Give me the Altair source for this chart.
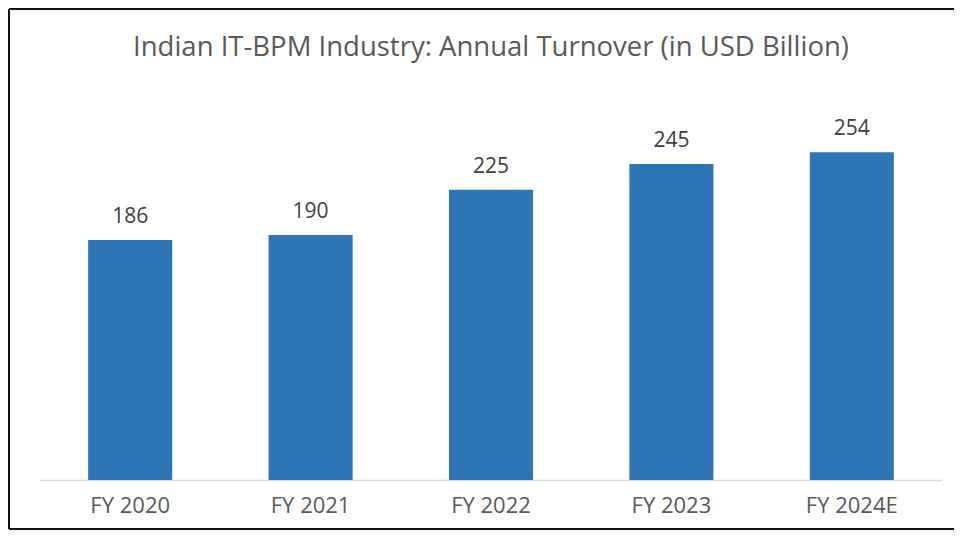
import altair as alt
import pandas as pd

years = ["FY 2020", "FY 2021", "FY 2022", "FY 2023", "FY 2024E"]
turnover = [186, 190, 225, 245, 254]
title_text = "Indian IT-BPM Industry: Annual Turnover (in USD Billion)"

df = pd.DataFrame({"year": years, "value": turnover})

W, H = 902, 387
FONT = "Open Sans"

x = alt.X("year:N", sort=years, title=None,
          scale=alt.Scale(paddingInner=0.534, paddingOuter=0.267),
          axis=alt.Axis(labelAngle=0, labelFontSize=22, labelColor="#595959",
                        labelFont=FONT, labelPadding=15, ticks=False,
                        domainColor="#D9D9D9", domainWidth=1.5, grid=False))
y = alt.Y("value:Q", scale=alt.Scale(domain=[0, 300]), axis=None)

base = alt.Chart(df)
bars = base.mark_bar(color="#2E75B6").encode(x=x, y=y)
labels = base.mark_text(fontSize=21, color="#404040", font=FONT,
                        baseline="middle", dy=-23).encode(
    x=x, y=y, text=alt.Text("value:Q"))

title = alt.Chart(pd.DataFrame({"t": [title_text]})).mark_text(
    fontSize=27.5, color="#595959", font=FONT, baseline="middle", align="center"
).encode(x=alt.value(W / 2), y=alt.value(-45), text="t:N")

frame_df = pd.DataFrame({"k": [0]})
left = alt.Chart(frame_df).mark_rule(color="#111111", strokeWidth=2).encode(
    x=alt.value(-31), y=alt.value(-84), y2=alt.value(436))
top = alt.Chart(frame_df).mark_rule(color="#111111", strokeWidth=2).encode(
    y=alt.value(-84), x=alt.value(-31), x2=alt.value(W + 12))
bottom = alt.Chart(frame_df).mark_rule(color="#111111", strokeWidth=2).encode(
    y=alt.value(436), x=alt.value(-31), x2=alt.value(W + 12))

chart = alt.layer(bars, labels, title, left, top, bottom).properties(
    width=W, height=H,
    autosize=alt.AutoSizeParams(type="none"),
    padding={"left": 32, "top": 85, "right": 12, "bottom": 50},
).configure_view(stroke=None)

chart.save("out.html", embed_options={"renderer": "svg", "actions": False})
